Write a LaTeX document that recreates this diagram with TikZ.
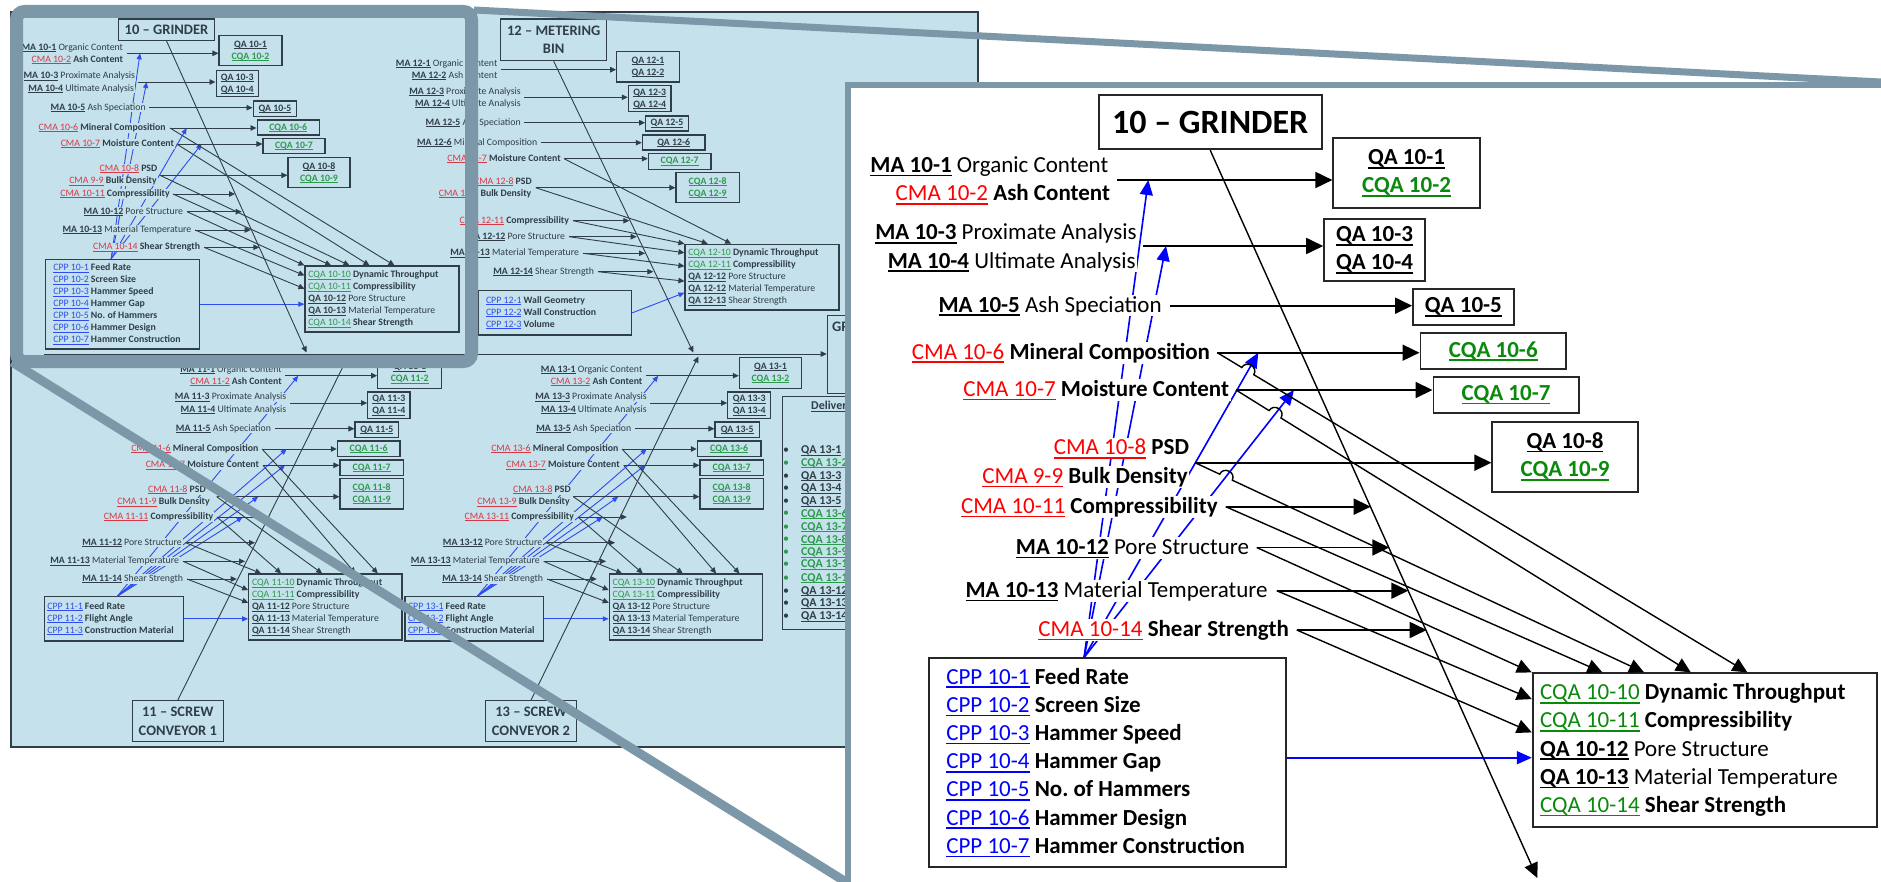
\documentclass[tikz,border=0pt]{standalone}
\usepackage{fontspec}
\setmainfont{Carlito}
\usetikzlibrary{arrows.meta,calc}
\frenchspacing

\definecolor{panelbg}{HTML}{C5E1EB}
\definecolor{hlgray}{HTML}{7B97A8}
\definecolor{sink}{HTML}{2F3E48}
\definecolor{sred}{HTML}{D63845}
\definecolor{sgreen}{HTML}{2E9A4E}
\definecolor{sblue}{HTML}{2E4CF0}
\definecolor{bred}{HTML}{FF0000}
\definecolor{bgreen}{HTML}{0A8A0A}
\definecolor{bblue}{HTML}{0000FF}
\colorlet{cmared}{bred}
\colorlet{cqagreen}{bgreen}
\colorlet{cppblue}{bblue}

% underlined codes
\newsavebox\ulinebox
\newcommand\uln[1]{\leavevmode\sbox\ulinebox{#1}\rlap{\rule[-0.17em]{\wd\ulinebox}{0.07em}}\usebox\ulinebox}
\newcommand\mcode[1]{{\bfseries\uln{#1}}}
\newcommand\rcode[1]{{\color{cmared}\uln{#1}}}
\newcommand\gcode[1]{{\color{cqagreen}\uln{#1}}}
\newcommand\bcode[1]{{\color{cppblue}\uln{#1}}}
\newcommand\sfnt{\fontsize{9.8}{12}\selectfont}
\newcommand\bfnt{\fontsize{23}{28.2}\selectfont}
\newcommand\dlvitem[4]{%
  \node[dlvdot, text=#3] (#1b) at (786,#2) {\textbullet};
  \node[dlvtxt] (#1) at (801,#2) {#4};}

\tikzset{
  slbl/.style={anchor=east, fill=panelbg, inner xsep=0.8pt, inner ysep=0.2pt,
    text height=7pt, text depth=2pt, font=\sfnt, text=sink},
  sbx/.style={draw=sink, line width=1.1pt, fill=panelbg, inner sep=0pt,
    font=\sfnt, text=sink, align=center},
  sttl/.style={sbx, font=\fontsize{14.5}{18.3}\selectfont\bfseries},
  sarr/.style={draw=sink, line width=0.9pt, -{Triangle[length=6pt,width=5.5pt]}},
  sblu/.style={draw=sblue, line width=0.9pt, -{Triangle[length=6pt,width=5pt]}},
  dlvdot/.style={font=\fontsize{12}{14}\selectfont, inner sep=0pt},
  dlvtxt/.style={anchor=west, inner sep=0pt, font=\fontsize{12}{14}\selectfont, text=sink},
  blbl/.style={anchor=east, fill=white, inner xsep=1.5pt, inner ysep=0.3pt,
    text height=17pt, text depth=4pt, font=\bfnt, text=black},
  bbx/.style={draw=black!85, line width=1.8pt, fill=white, inner sep=0pt,
    font=\bfnt, text=black, align=center},
  barr/.style={draw=black, line width=1.8pt, -{Triangle[length=17pt,width=16pt]}},
  bdiag/.style={draw=black, line width=1.4pt, -{Triangle[length=15pt,width=14pt]}},
  bblu/.style={draw=bblue, line width=1.6pt, -{Triangle[length=15pt,width=13pt]}},
}

\begin{document}
\begin{tikzpicture}[x=1pt,y=-1pt]
\useasboundingbox (0,0) rectangle (1881,882);
\fill[white] (0,0) rectangle (1881,882);

% ================= overview of the whole feed line =================
\draw[fill=panelbg, draw=sink, line width=1.2pt] (11,12) rectangle (978,747);

\begin{scope}
\colorlet{cmared}{sred}\colorlet{cqagreen}{sgreen}\colorlet{cppblue}{sblue}

% ---------- 10 grinder ----------
\node[sttl, minimum width=95.6pt, minimum height=21.3pt] (g10) at (166.5,29.7) {10 \textendash{} GRINDER};
\node[sbx, minimum width=63pt, minimum height=30pt] (q10a) at (250.5,50.7) {\mcode{QA 10-1}\\\textbf{\gcode{CQA 10-2}}};
\node[sbx, minimum width=42.3pt, minimum height=26pt] (q10b) at (237.2,83.7) {\mcode{QA 10-3}\\\mcode{QA 10-4}};
\node[sbx, minimum width=43.7pt, minimum height=15.3pt] (q10c) at (274.9,108.7) {\mcode{QA 10-5}};
\node[sbx, minimum width=62.3pt, minimum height=15pt] (q10d) at (288.2,127.5) {\textbf{\gcode{CQA 10-6}}};
\node[sbx, minimum width=62pt, minimum height=15.4pt] (q10e) at (294,146) {\textbf{\gcode{CQA 10-7}}};
\node[sbx, minimum width=62pt, minimum height=30.4pt] (q10f) at (319,172.5) {\mcode{QA 10-8}\\\textbf{\gcode{CQA 10-9}}};
\node[sbx, align=flush left, text width=138.4pt, inner xsep=7.6pt, minimum height=89.7pt] (cpp10) at (122.5,304.2)
  {\bcode{CPP 10-1} \textbf{Feed Rate}\\\bcode{CPP 10-2} \textbf{Screen Size}\\\bcode{CPP 10-3} \textbf{Hammer Speed}\\\bcode{CPP 10-4} \textbf{Hammer Gap}\\\bcode{CPP 10-5} \textbf{No. of Hammers}\\\bcode{CPP 10-6} \textbf{Hammer Design}\\\bcode{CPP 10-7} \textbf{Hammer Construction}};
\node[sbx, align=flush left, text width=147.4pt, inner xsep=3.3pt, minimum height=66pt] (t10) at (382,299)
  {\gcode{CQA 10-10} \textbf{Dynamic Throughput}\\\gcode{CQA 10-11} \textbf{Compressibility}\\\mcode{QA 10-12} Pore Structure\\\mcode{QA 10-13} Material Temperature\\\gcode{CQA 10-14} \textbf{Shear Strength}};
\coordinate (a10a) at (127,53.3);
\coordinate (a10b) at (137.7,82);
\coordinate (a10c) at (149,107.7);
\coordinate (a10d) at (170,128);
\coordinate (a10e) at (176.7,144);
\coordinate (a10f) at (160,175.3);
\coordinate (a10k) at (173,194);
\coordinate (a10l) at (187,211.7);
\coordinate (a10m) at (195,230);
\coordinate (a10n) at (204,247.3);
\coordinate (b10) at ($(cpp10.north west)+(66,0)$);
\draw[sblu] (b10) -- ($(a10a)+(13,0)$);
\draw[sblu] (b10) -- ($(a10b)+(9,0)$);
\draw[sblu] (b10) -- ($(a10d)+(16.7,0)$);
\draw[sblu] (b10) -- ($(a10e)+(25,0)$);
\node[slbl] (l10a) at (124,47.7) {\mcode{MA 10-1} Organic Content};
\node[slbl] (l10b) at (124,60) {\rcode{CMA 10-2} \textbf{Ash Content}};
\node[slbl] (l10c) at (136,76.3) {\mcode{MA 10-3} Proximate Analysis};
\node[slbl] (l10d) at (135,88.7) {\mcode{MA 10-4} Ultimate Analysis};
\node[slbl] (l10e) at (146.7,107.7) {\mcode{MA 10-5} Ash Speciation};
\node[slbl] (l10f) at (166.7,128) {\rcode{CMA 10-6} \textbf{Mineral Composition}};
\node[slbl] (l10g) at (175,144) {\rcode{CMA 10-7} \textbf{Moisture Content}};
\node[slbl] (l10h) at (158.3,169) {\rcode{CMA 10-8} \textbf{PSD}};
\node[slbl] (l10i) at (157.7,181.3) {\rcode{CMA 9-9} \textbf{Bulk Density}};
\node[slbl] (l10k) at (170.7,194) {\rcode{CMA 10-11} \textbf{Compressibility}};
\node[slbl] (l10l) at (184,211.7) {\mcode{MA 10-12} Pore Structure};
\node[slbl] (l10m) at (192.3,230) {\mcode{MA 10-13} Material Temperature};
\node[slbl] (l10n) at (201,247.3) {\rcode{CMA 10-14} \textbf{Shear Strength}};
\draw[sarr] (a10a) -- (a10a -| q10a.west);
\draw[sarr] (a10b) -- (a10b -| q10b.west);
\draw[sarr] (a10c) -- (a10c -| q10c.west);
\draw[sarr] (a10d) -- (a10d -| q10d.west);
\draw[sarr] (a10e) -- (a10e -| q10e.west);
\draw[sarr] (a10f) -- (a10f -| q10f.west);
\draw[sarr] (a10k) -- ($(a10k)+(62,0)$);
\draw[sarr] (a10l) -- ($(a10l)+(54.7,0)$);
\draw[sarr] (a10m) -- ($(a10m)+(55.7,0)$);
\draw[sarr] (a10n) -- ($(a10n)+(55.3,0)$);
\draw[sarr] (a10d) -- ($(t10.north west)+(90,0)$);
\draw[sarr] (a10e) -- ($(t10.north west)+(65,0)$);
\draw[sarr] (a10f) -- ($(t10.north west)+(45,0)$);
\draw[sarr] (a10k) -- ($(t10.north west)+(26.7,0)$);
\draw[sarr] (a10l) -- (t10.north west);
\draw[sarr] (a10m) -- ($(t10.north west)+(0,10)$);
\draw[sarr] (a10n) -- ($(t10.north west)+(0,23.3)$);
\draw[sblu] (cpp10.east) -- (cpp10.east -| t10.west);

% ---------- 12 metering bin ----------
\node[sttl, minimum width=106pt, minimum height=41.7pt] (m12) at (553.7,39.85) {12 \textendash{} METERING\\BIN};
\node[sbx, minimum width=62.6pt, minimum height=30.3pt] (q12a) at (648,66.85) {\mcode{QA 12-1}\\\mcode{QA 12-2}};
\node[sbx, minimum width=42.7pt, minimum height=26pt] (q12b) at (649.65,98.7) {\mcode{QA 12-3}\\\mcode{QA 12-4}};
\node[sbx, minimum width=42.6pt, minimum height=15pt] (q12c) at (667,123.5) {\mcode{QA 12-5}};
\node[sbx, minimum width=62.7pt, minimum height=15pt] (q12d) at (673.65,142.5) {\mcode{QA 12-6}};
\node[sbx, minimum width=62.7pt, minimum height=15.6pt] (q12e) at (679.65,161.5) {\textbf{\gcode{CQA 12-7}}};
\node[sbx, minimum width=63.3pt, minimum height=30pt] (q12f) at (707.65,187.7) {\textbf{\gcode{CQA 12-8}}\\\textbf{\gcode{CQA 12-9}}};
\node[sbx, align=flush left, text width=138.4pt, inner xsep=7.3pt, minimum height=44.3pt] (cpp12) at (555.2,312.85)
  {\bcode{CPP 12-1} \textbf{Wall Geometry}\\\bcode{CPP 12-2} \textbf{Wall Construction}\\\bcode{CPP 12-3} \textbf{Volume}};
\node[sbx, align=flush left, text width=147.4pt, inner xsep=3.3pt, minimum height=65.7pt] (t12) at (762,277.15)
  {\gcode{CQA 12-10} \textbf{Dynamic Throughput}\\\gcode{CQA 12-11} \textbf{Compressibility}\\\mcode{QA 12-12} Pore Structure\\\mcode{QA 12-12} Material Temperature\\\mcode{QA 12-13} Shear Strength};
\coordinate (a12a) at (500.7,69.7);
\coordinate (a12b) at (524,97.3);
\coordinate (a12c) at (524,122.7);
\coordinate (a12d) at (541,142.7);
\coordinate (a12e) at (564,158.7);
\coordinate (a12f) at (535.7,187.7);
\coordinate (a12k) at (573,220.7);
\coordinate (a12l) at (569,236.7);
\coordinate (a12m) at (583,253.3);
\coordinate (a12n) at (598,271.7);
\node[slbl] (l12a) at (498.3,63.7) {\mcode{MA 12-1} Organic Content};
\node[slbl] (l12b) at (498.3,75.7) {\mcode{MA 12-2} Ash Content};
\node[slbl] (l12c) at (521.7,91.7) {\mcode{MA 12-3} Proximate Analysis};
\node[slbl] (l12d) at (521.7,103.7) {\mcode{MA 12-4} Ultimate Analysis};
\node[slbl] (l12e) at (521.7,122.7) {\mcode{MA 12-5} Ash Speciation};
\node[slbl] (l12f) at (538.3,142.7) {\mcode{MA 12-6} Mineral Composition};
\node[slbl] (l12g) at (561.7,158.7) {\rcode{CMA 12-7} \textbf{Moisture Content}};
\node[slbl] (l12h) at (532.7,181.7) {\rcode{CMA 12-8} \textbf{PSD}};
\node[slbl] (l12i) at (532.3,193.7) {\rcode{CMA 12-9} \textbf{Bulk Density}};
\node[slbl] (l12k) at (570,220.7) {\rcode{CMA 12-11} \textbf{Compressibility}};
\node[slbl] (l12l) at (566,236.7) {\mcode{MA 12-12} Pore Structure};
\node[slbl] (l12m) at (580,253.3) {\mcode{MA 12-13} Material Temperature};
\node[slbl] (l12n) at (595,271.7) {\mcode{MA 12-14} Shear Strength};
\draw[sarr] (a12a) -- (a12a -| q12a.west);
\draw[sarr] (a12b) -- (a12b -| q12b.west);
\draw[sarr] (a12c) -- (a12c -| q12c.west);
\draw[sarr] (a12d) -- (a12d -| q12d.west);
\draw[sarr] (a12e) -- (a12e -| q12e.west);
\draw[sarr] (a12f) -- (a12f -| q12f.west);
\draw[sarr] (a12k) -- ($(a12k)+(56.3,0)$);
\draw[sarr] (a12l) -- ($(a12l)+(67.7,0)$);
\draw[sarr] (a12m) -- ($(a12m)+(62,0)$);
\draw[sarr] (a12n) -- ($(a12n)+(55.3,0)$);
\draw[sarr] (a12e) -- ($(t12.north west)+(46.7,0)$);
\draw[sarr] (a12f) -- ($(t12.north west)+(23.3,0)$);
\draw[sarr] (a12k) -- (t12.north west);
\draw[sarr] (a12l) -- ($(t12.north west)+(0,9)$);
\draw[sarr] (a12m) -- ($(t12.north west)+(0,22.4)$);
\draw[sarr] (a12n) -- ($(t12.north west)+(0,37.4)$);
\draw[sblu] (cpp12.east) -- ($(t12.north west)+(0,49)$);

% ---------- 11 screw conveyor 1 ----------
\node[sttl, minimum width=91pt, minimum height=41pt] (c11) at (177.8,721.2) {11 \textendash{} SCREW\\CONVEYOR 1};
\node[sbx, minimum width=64pt, minimum height=30.3pt] (q11a) at (409.7,373.15) {\mcode{QA 11-1}\\\textbf{\gcode{CQA 11-2}}};
\node[sbx, minimum width=42.3pt, minimum height=26.7pt] (q11b) at (388.85,405.35) {\mcode{QA 11-3}\\\mcode{QA 11-4}};
\node[sbx, minimum width=43.7pt, minimum height=15.3pt] (q11c) at (376.85,429.65) {\mcode{QA 11-5}};
\node[sbx, minimum width=62.7pt, minimum height=15.3pt] (q11d) at (368.65,448.65) {\textbf{\gcode{CQA 11-6}}};
\node[sbx, minimum width=63.3pt, minimum height=15.3pt] (q11e) at (371.65,467.65) {\textbf{\gcode{CQA 11-7}}};
\node[sbx, minimum width=63.3pt, minimum height=30.3pt] (q11f) at (371.65,493.85) {\textbf{\gcode{CQA 11-8}}\\\textbf{\gcode{CQA 11-9}}};
\node[sbx, align=flush left, text width=133.4pt, inner xsep=3pt, minimum height=44.3pt] (cpp11) at (114,618.85)
  {\bcode{CPP 11-1} \textbf{Feed Rate}\\\bcode{CPP 11-2} \textbf{Flight Angle}\\\bcode{CPP 11-3} \textbf{Construction Material}};
\node[sbx, align=flush left, text width=146.7pt, inner xsep=3.3pt, minimum height=66pt] (t11) at (325.35,607)
  {\gcode{CQA 11-10} \textbf{Dynamic Throughput}\\\gcode{CQA 11-11} \textbf{Compressibility}\\\mcode{QA 11-12} Pore Structure\\\mcode{QA 11-13} Material Temperature\\\mcode{QA 11-14} Shear Strength};
\coordinate (a11a) at (285,375.7);
\coordinate (a11b) at (290,403);
\coordinate (a11c) at (275,428.7);
\coordinate (a11d) at (262,449);
\coordinate (a11e) at (263,465.3);
\coordinate (a11f) at (216.7,496.7);
\coordinate (a11k) at (217,517);
\coordinate (a11l) at (185.7,542.7);
\coordinate (a11m) at (183,561.3);
\coordinate (a11n) at (187,579);
\coordinate (b11) at ($(cpp11.north west)+(73.7,0)$);
\draw[sblu] (b11) -- ($(a11a)+(13.3,0)$);
\draw[sblu] (b11) -- ($(a11d)+(24.7,0)$);
\draw[sblu] (b11) -- ($(a11e)+(22,0)$);
\draw[sblu] (b11) -- ($(a11f)+(41.6,0)$);
\draw[sblu] (b11) -- ($(a11k)+(25.7,0)$);
\node[slbl] (l11a) at (282.7,370) {\mcode{MA 11-1} Organic Content};
\node[slbl] (l11b) at (282.7,382) {\rcode{CMA 11-2} \textbf{Ash Content}};
\node[slbl] (l11c) at (287.3,397.3) {\mcode{MA 11-3} Proximate Analysis};
\node[slbl] (l11d) at (287.3,409.7) {\mcode{MA 11-4} Ultimate Analysis};
\node[slbl] (l11e) at (272,428.7) {\mcode{MA 11-5} Ash Speciation};
\node[slbl] (l11f) at (259.3,449) {\rcode{CMA 11-6} \textbf{Mineral Composition}};
\node[slbl] (l11g) at (260,465.3) {\rcode{CMA 11-7} \textbf{Moisture Content}};
\node[slbl] (l11h) at (206.7,490) {\rcode{CMA 11-8} \textbf{PSD}};
\node[slbl] (l11i) at (210.7,502.3) {\rcode{CMA 11-9} \textbf{Bulk Density}};
\node[slbl] (l11k) at (214.3,517) {\rcode{CMA 11-11} \textbf{Compressibility}};
\node[slbl] (l11l) at (182.7,542.7) {\mcode{MA 11-12} Pore Structure};
\node[slbl] (l11m) at (180,561.3) {\mcode{MA 11-13} Material Temperature};
\node[slbl] (l11n) at (184,579) {\mcode{MA 11-14} Shear Strength};
\draw[sarr] (a11a) -- (a11a -| q11a.west);
\draw[sarr] (a11b) -- (a11b -| q11b.west);
\draw[sarr] (a11c) -- (a11c -| q11c.west);
\draw[sarr] (a11d) -- (a11d -| q11d.west);
\draw[sarr] (a11e) -- (a11e -| q11e.west);
\draw[sarr] (a11f) -- (a11f -| q11f.west);
\draw[sarr] (a11k) -- ($(a11k)+(49.7,0)$);
\draw[sarr] (a11l) -- ($(a11l)+(69.3,0)$);
\draw[sarr] (a11m) -- ($(a11m)+(62,0)$);
\draw[sarr] (a11n) -- ($(a11n)+(49.7,0)$);
\draw[sarr] (a11d) -- ($(t11.north west)+(129.6,0)$);
\draw[sarr] (a11e) -- ($(t11.north west)+(107.3,0)$);
\draw[sarr] (a11f) -- ($(t11.north west)+(74,0)$);
\draw[sarr] (a11k) -- ($(t11.north west)+(33,0)$);
\draw[sarr] (a11l) -- ($(t11.north west)+(13,0)$);
\draw[sarr] (a11m) -- ($(t11.north west)+(0,16.7)$);
\draw[sarr] (a11n) -- ($(t11.north west)+(0,29.3)$);
\draw[sblu] (cpp11.east) -- (cpp11.east -| t11.west);

% ---------- 13 screw conveyor 2 ----------
\node[sttl, minimum width=91.4pt, minimum height=41pt] (c13) at (531,721.2) {13 \textendash{} SCREW\\CONVEYOR 2};
\node[sbx, minimum width=62.4pt, minimum height=30.6pt] (q13a) at (770.5,373) {\mcode{QA 13-1}\\\textbf{\gcode{CQA 13-2}}};
\node[sbx, minimum width=43pt, minimum height=26.7pt] (q13b) at (749.2,405.35) {\mcode{QA 13-3}\\\mcode{QA 13-4}};
\node[sbx, minimum width=44.3pt, minimum height=15.3pt] (q13c) at (737.15,429.65) {\mcode{QA 13-5}};
\node[sbx, minimum width=63.7pt, minimum height=15.3pt] (q13d) at (729.15,448.65) {\textbf{\gcode{CQA 13-6}}};
\node[sbx, minimum width=63.3pt, minimum height=15.3pt] (q13e) at (731.65,467.65) {\textbf{\gcode{CQA 13-7}}};
\node[sbx, minimum width=63.3pt, minimum height=30.3pt] (q13f) at (731.65,493.85) {\textbf{\gcode{CQA 13-8}}\\\textbf{\gcode{CQA 13-9}}};
\node[sbx, align=flush left, text width=132.7pt, inner xsep=3pt, minimum height=44.3pt] (cpp13) at (474.35,618.85)
  {\bcode{CPP 13-1} \textbf{Feed Rate}\\\bcode{CPP 13-2} \textbf{Flight Angle}\\\bcode{CPP 13-3} \textbf{Construction Material}};
\node[sbx, align=flush left, text width=146.4pt, inner xsep=3.3pt, minimum height=66pt] (t13) at (685.8,607)
  {\gcode{CQA 13-10} \textbf{Dynamic Throughput}\\\gcode{CQA 13-11} \textbf{Compressibility}\\\mcode{QA 13-12} Pore Structure\\\mcode{QA 13-13} Material Temperature\\\mcode{QA 13-14} Shear Strength};
\coordinate (a13a) at (646,375.7);
\coordinate (a13b) at (650.3,403);
\coordinate (a13c) at (635,428.7);
\coordinate (a13d) at (622,449);
\coordinate (a13e) at (623.7,465.3);
\coordinate (a13f) at (573.3,496.7);
\coordinate (a13k) at (578,517);
\coordinate (a13l) at (546,542.7);
\coordinate (a13m) at (543.7,561.3);
\coordinate (a13n) at (547,579);
\coordinate (b13) at ($(cpp13.north west)+(73,0)$);
\draw[sblu] (b13) -- ($(a13a)+(12.3,0)$);
\draw[sblu] (b13) -- ($(a13d)+(24.7,0)$);
\draw[sblu] (b13) -- ($(a13e)+(21.3,0)$);
\draw[sblu] (b13) -- ($(a13f)+(45,0)$);
\draw[sblu] (b13) -- ($(a13k)+(24.7,0)$);
\node[slbl] (l13a) at (643.3,370) {\mcode{MA 13-1} Organic Content};
\node[slbl] (l13b) at (643.3,382) {\rcode{CMA 13-2} \textbf{Ash Content}};
\node[slbl] (l13c) at (647.7,397.3) {\mcode{MA 13-3} Proximate Analysis};
\node[slbl] (l13d) at (647.7,409.7) {\mcode{MA 13-4} Ultimate Analysis};
\node[slbl] (l13e) at (632.3,428.7) {\mcode{MA 13-5} Ash Speciation};
\node[slbl] (l13f) at (619.3,449) {\rcode{CMA 13-6} \textbf{Mineral Composition}};
\node[slbl] (l13g) at (620.7,465.3) {\rcode{CMA 13-7} \textbf{Moisture Content}};
\node[slbl] (l13h) at (571.7,490) {\rcode{CMA 13-8} \textbf{PSD}};
\node[slbl] (l13i) at (570.7,502.3) {\rcode{CMA 13-9} \textbf{Bulk Density}};
\node[slbl] (l13k) at (575,517) {\rcode{CMA 13-11} \textbf{Compressibility}};
\node[slbl] (l13l) at (543.3,542.7) {\mcode{MA 13-12} Pore Structure};
\node[slbl] (l13m) at (540.7,561.3) {\mcode{MA 13-13} Material Temperature};
\node[slbl] (l13n) at (544,579) {\mcode{MA 13-14} Shear Strength};
\draw[sarr] (a13a) -- (a13a -| q13a.west);
\draw[sarr] (a13b) -- (a13b -| q13b.west);
\draw[sarr] (a13c) -- (a13c -| q13c.west);
\draw[sarr] (a13d) -- (a13d -| q13d.west);
\draw[sarr] (a13e) -- (a13e -| q13e.west);
\draw[sarr] (a13f) -- (a13f -| q13f.west);
\draw[sarr] (a13k) -- ($(a13k)+(48.7,0)$);
\draw[sarr] (a13l) -- ($(a13l)+(69,0)$);
\draw[sarr] (a13m) -- ($(a13m)+(62.3,0)$);
\draw[sarr] (a13n) -- ($(a13n)+(49.7,0)$);
\draw[sarr] (a13d) -- ($(t13.north west)+(130.7,0)$);
\draw[sarr] (a13e) -- ($(t13.north west)+(107.4,0)$);
\draw[sarr] (a13f) -- ($(t13.north west)+(74,0)$);
\draw[sarr] (a13k) -- ($(t13.north west)+(34,0)$);
\draw[sarr] (a13l) -- ($(t13.north west)+(13.4,0)$);
\draw[sarr] (a13m) -- ($(t13.north west)+(0,16.7)$);
\draw[sarr] (a13n) -- ($(t13.north west)+(0,29.3)$);
\draw[sblu] (cpp13.east) -- (cpp13.east -| t13.west);

% ---------- main line, next stage and deliverables ----------
\node[sbx, anchor=north west, minimum width=120pt, minimum height=78.3pt] (gr) at (826.7,315) {};
\node[anchor=west, inner sep=0pt, font=\fontsize{14.5}{17}\selectfont\bfseries, text=sink] (grt) at (832,327) {GR};
\coordinate (sp) at (44,354);
\draw[sarr] (sp) -- (sp -| gr.west);
\coordinate (j10) at (306.5,352.5);
\coordinate (j12) at (693.3,352.5);
\coordinate (j11) at (348,356.5);
\coordinate (j13) at (698.3,356.5);
\draw[sarr] (g10.south) -- (j10);
\draw[sarr] (m12.south) -- (j12);
\draw[sarr] (c11.north) -- (j11);
\draw[sarr] (c13.north) -- (j13);

\node[sbx, anchor=north west, minimum width=130pt, minimum height=233.3pt] (dlv) at (782.3,396) {};
\node[anchor=west, inner sep=0pt, font=\fontsize{12}{14}\selectfont\bfseries, text=sink] (dlvh) at (811,406.7) {\uln{Deliverables}};
\dlvitem{d1}{451}{sink}{\mcode{QA 13-1}}
\dlvitem{d2}{463.3}{sgreen}{\textbf{\gcode{CQA 13-2}}}
\dlvitem{d3}{476.3}{sink}{\mcode{QA 13-3}}
\dlvitem{d4}{489}{sink}{\mcode{QA 13-4}}
\dlvitem{d5}{501.7}{sink}{\mcode{QA 13-5}}
\dlvitem{d6}{514}{sgreen}{\textbf{\gcode{CQA 13-6}}}
\dlvitem{d7}{527.3}{sgreen}{\textbf{\gcode{CQA 13-7}}}
\dlvitem{d8}{540}{sgreen}{\textbf{\gcode{CQA 13-8}}}
\dlvitem{d9}{552.7}{sgreen}{\textbf{\gcode{CQA 13-9}}}
\dlvitem{d10}{565}{sgreen}{\textbf{\gcode{CQA 13-10}}}
\dlvitem{d11}{578.3}{sgreen}{\textbf{\gcode{CQA 13-11}}}
\dlvitem{d12}{591.3}{sink}{\mcode{QA 13-12}}
\dlvitem{d13}{604}{sink}{\mcode{QA 13-13}}
\dlvitem{d14}{617}{sink}{\mcode{QA 13-14}}
\end{scope}

% ================= highlight frame and callout =================
\draw[hlgray, line width=13pt, rounded corners=8pt] (16.5,11.5) rectangle (471.5,361.5);
\draw[hlgray, line width=7pt] (474,10) -- (1881,82);
\draw[hlgray, line width=9pt] (12,362) -- (846,882);
\draw[hlgray, line width=6pt, fill=white] (848,85) rectangle (1895,895);

% ================= enlarged grinder stage =================
\node[bbx, font=\fontsize{34}{40}\selectfont\bfseries, minimum width=223pt, minimum height=54.3pt] (G) at (1210.2,122.15) {10 \textendash{} GRINDER};
\node[bbx, minimum width=146.4pt, minimum height=70pt] (Q1) at (1406.5,173.3) {\mcode{QA 10-1}\\\textbf{\gcode{CQA 10-2}}};
\node[bbx, minimum width=100.8pt, minimum height=61.7pt] (Q2) at (1374.5,250.15) {\mcode{QA 10-3}\\\mcode{QA 10-4}};
\node[bbx, minimum width=100.8pt, minimum height=36pt] (Q3) at (1463.4,307.3) {\mcode{QA 10-5}};
\node[bbx, minimum width=145.6pt, minimum height=36pt] (Q4) at (1493.2,351.3) {\textbf{\gcode{CQA 10-6}}};
\node[bbx, minimum width=145.2pt, minimum height=35.4pt] (Q5) at (1506,395) {\textbf{\gcode{CQA 10-7}}};
\node[bbx, minimum width=145.4pt, minimum height=70pt] (Q6) at (1565,456.7) {\mcode{QA 10-8}\\\textbf{\gcode{CQA 10-9}}};
\node[bbx, align=flush left, text width=322.4pt, inner xsep=17pt, minimum height=208.4pt] (CPP) at (1107.5,762.5)
  {\bcode{CPP 10-1} \textbf{Feed Rate}\\\bcode{CPP 10-2} \textbf{Screen Size}\\\bcode{CPP 10-3} \textbf{Hammer Speed}\\\bcode{CPP 10-4} \textbf{Hammer Gap}\\\bcode{CPP 10-5} \textbf{No. of Hammers}\\\bcode{CPP 10-6} \textbf{Hammer Design}\\\bcode{CPP 10-7} \textbf{Hammer Construction}};
\node[bbx, align=flush left, text width=329.7pt, inner xsep=7.3pt, minimum height=153.4pt] (T) at (1704.85,750)
  {\gcode{CQA 10-10} \textbf{Dynamic Throughput}\\\gcode{CQA 10-11} \textbf{Compressibility}\\\mcode{QA 10-12} Pore Structure\\\mcode{QA 10-13} Material Temperature\\\gcode{CQA 10-14} \textbf{Shear Strength}};

\coordinate (A1) at (1116.7,180);
\coordinate (A2) at (1142.7,246);
\coordinate (A3) at (1170,305.7);
\coordinate (A4) at (1217.3,352.7);
\coordinate (A5) at (1236,390);
\coordinate (A6) at (1195,462.7);
\coordinate (A7) at (1225.7,506.7);
\coordinate (A8) at (1256.7,547.5);
\coordinate (A9) at (1276.7,590.7);
\coordinate (A10) at (1296.7,630);

% process parameters acting on attributes (run behind the labels)
\coordinate (BB) at ($(CPP.north west)+(155.7,0)$);
\draw[bblu] (BB) -- ($(A1)+(31.6,0)$);
\draw[bblu] (BB) -- ($(A2)+(23.3,0)$);
\draw[bblu] (BB) -- ($(A4)+(41,0)$);
\draw[bblu] (BB) -- ($(A5)+(58,0)$);

\node[blbl] (L1) at (1110,166) {\mcode{MA 10-1} Organic Content};
\node[blbl] (L2) at (1111.7,194.3) {\rcode{CMA 10-2} \textbf{Ash Content}};
\node[blbl] (L3) at (1138.3,233.3) {\mcode{MA 10-3} Proximate Analysis};
\node[blbl] (L4) at (1137.3,261.7) {\mcode{MA 10-4} Ultimate Analysis};
\node[blbl] (L5) at (1163.3,305.7) {\mcode{MA 10-5} Ash Speciation};
\node[blbl] (L6) at (1211.7,352.7) {\rcode{CMA 10-6} \textbf{Mineral Composition}};
\node[blbl] (L7) at (1230.7,390) {\rcode{CMA 10-7} \textbf{Moisture Content}};
\node[blbl] (L8) at (1190.7,448.3) {\rcode{CMA 10-8} \textbf{PSD}};
\node[blbl] (L9) at (1189.3,476.7) {\rcode{CMA 9-9} \textbf{Bulk Density}};
\node[blbl] (L11) at (1219.3,506.7) {\rcode{CMA 10-11} \textbf{Compressibility}};
\node[blbl] (L12) at (1250.7,547.7) {\mcode{MA 10-12} Pore Structure};
\node[blbl] (L13) at (1269.3,590.7) {\mcode{MA 10-13} Material Temperature};
\node[blbl] (L14) at (1290.7,630) {\rcode{CMA 10-14} \textbf{Shear Strength}};

\draw[barr] (A1) -- (A1 -| Q1.west);
\draw[barr] (A2) -- (A2 -| Q2.west);
\draw[barr] (A3) -- (A3 -| Q3.west);
\draw[barr] (A4) -- (A4 -| Q4.west);
\draw[barr] (A5) -- (A5 -| Q5.west);
\draw[barr] (A6) -- (A6 -| Q6.west);
\draw[barr] (A7) -- ($(A7)+(145,0)$);
\draw[barr] (A8) -- ($(A8)+(132.6,0)$);
\draw[barr] (A9) -- ($(A9)+(131.6,0)$);
\draw[barr] (A10) -- ($(A10)+(130,0)$);

% links into the dynamic attributes, hopping over the blue links
\draw[bdiag] (A4) -- (1241.8,367.5) to[bend left=90, looseness=1.65] (1253.8,374.7) -- ($(T.north west)+(215.6,0)$);
\draw[bdiag] (A5) -- (1269.05,410.6) to[bend left=90, looseness=1.65] (1280.95,418) -- ($(T.north west)+(159,0)$);
\draw[bdiag] (A6) -- (1219.7,474.2) to[bend left=90, looseness=1.65] (1232.3,480.2) -- ($(T.north west)+(112.3,0)$);
\draw[bdiag] (A7) -- ($(T.north west)+(70.6,0)$);
\draw[bdiag] (A8) -- (T.north west);
\draw[bdiag] (A9) -- ($(T.north west)+(0,26.7)$);
\draw[bdiag] (A10) -- ($(T.north west)+(0,60)$);

\coordinate (CO) at ($(CPP.east)+(0,-4.8)$);
\draw[bblu] (CO) -- (CO -| T.west);
\coordinate (GE) at (1537.3,878);
\draw[bdiag] (G.south) -- (GE);
\end{tikzpicture}
\end{document}
